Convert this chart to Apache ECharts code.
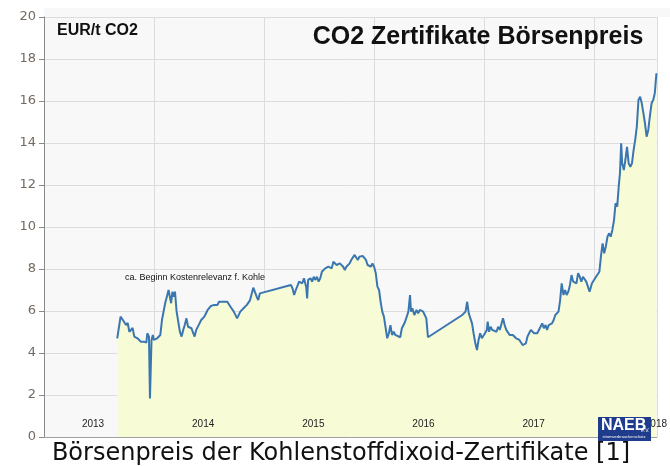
<!DOCTYPE html>
<html><head><meta charset="utf-8">
<script src="https://cdn.jsdelivr.net/npm/echarts@6/dist/echarts.min.js"></script>
<style>html,body{margin:0;padding:0;background:#fff}#c{width:670px;height:466px}</style>
</head><body><div id="c"></div>
<script>
// ---- data (EUR per t CO2, dates as decimal years) ----
const yearTicks = [2013, 2014, 2015, 2016, 2017, 2018];

const dates2013  = [2013.665, 2013.695, 2013.716, 2013.731, 2013.745, 2013.760, 2013.775, 2013.789, 2013.804, 2013.820,
                    2013.834, 2013.849, 2013.864, 2013.878, 2013.893, 2013.908, 2013.929, 2013.938, 2013.953, 2013.962,
                    2013.976, 2013.988, 2013.997];
const prices2013 = [4.70, 5.73, 5.57, 5.49, 5.33, 5.43, 5.01, 4.94, 5.19, 4.78,
                    4.86, 4.70, 4.62, 4.54, 4.62, 4.54, 4.49, 4.94, 4.78, 1.84,
                    4.62, 4.86, 4.62];

const dates2014  = [2014.012, 2014.027, 2014.042, 2014.056, 2014.071, 2014.086, 2014.100, 2014.116, 2014.131, 2014.145,
                    2014.154, 2014.166, 2014.175, 2014.189, 2014.204, 2014.220, 2014.234, 2014.249, 2014.264, 2014.278,
                    2014.293, 2014.308, 2014.323, 2014.338, 2014.353, 2014.367, 2014.382, 2014.397, 2014.412, 2014.427,
                    2014.442, 2014.456, 2014.471, 2014.486, 2014.500, 2014.516, 2014.531, 2014.545, 2014.560, 2014.575,
                    2014.589, 2014.604, 2014.620, 2014.634, 2014.664, 2014.678, 2014.693, 2014.723, 2014.753, 2014.767,
                    2014.782, 2014.812, 2014.842, 2014.871, 2014.900, 2014.931, 2014.945, 2014.960];
const prices2014 = [4.54, 4.70, 4.62, 4.86, 5.57, 5.49, 6.37, 6.44, 7.00, 7.03,
                    6.37, 6.92, 6.68, 6.92, 5.97, 5.89, 5.01, 4.78, 5.10, 5.33,
                    5.65, 5.25, 5.33, 5.18, 5.10, 4.78, 5.10, 5.18, 5.41, 5.57,
                    5.57, 5.73, 5.89, 6.05, 6.13, 6.24, 6.29, 6.29, 6.37, 6.29,
                    6.44, 6.37, 6.44, 6.52, 6.44, 6.44, 6.20, 5.97, 5.65, 5.73,
                    5.97, 6.13, 6.29, 6.52, 7.11, 6.68, 6.52, 6.84];

const dates2015  = [2015.242, 2015.256, 2015.271, 2015.286, 2015.316, 2015.331, 2015.345, 2015.360, 2015.380, 2015.389,
                    2015.398, 2015.420, 2015.434, 2015.449, 2015.464, 2015.478, 2015.493, 2015.508, 2015.523, 2015.538,
                    2015.553, 2015.567, 2015.582, 2015.597, 2015.612, 2015.627, 2015.642, 2015.656, 2015.686, 2015.716,
                    2015.731, 2015.745, 2015.775, 2015.789, 2015.804, 2015.820, 2015.834, 2015.849, 2015.864, 2015.893,
                    2015.908, 2015.923, 2015.938, 2015.953, 2015.967, 2015.982, 2015.997];
const prices2015 = [7.24, 7.08, 6.76, 7.00, 7.40, 7.48, 7.32, 7.56, 7.16, 6.60,
                    7.48, 7.56, 7.40, 7.63, 7.48, 7.63, 7.40, 7.56, 7.87, 7.80,
                    8.03, 7.95, 8.11, 8.19, 8.03, 8.35, 8.27, 8.19, 8.27, 8.11,
                    7.95, 8.11, 8.27, 8.43, 8.51, 8.67, 8.59, 8.43, 8.59, 8.62,
                    8.59, 8.43, 8.19, 8.27, 8.11, 8.27, 8.11];

const dates2016  = [2016.012, 2016.027, 2016.042, 2016.056, 2016.071, 2016.086, 2016.100, 2016.116, 2016.131, 2016.145,
                    2016.160, 2016.175, 2016.189, 2016.204, 2016.234, 2016.249, 2016.264, 2016.278, 2016.293, 2016.308,
                    2016.323, 2016.332, 2016.344, 2016.362, 2016.382, 2016.397, 2016.412, 2016.427, 2016.442, 2016.456,
                    2016.471, 2016.486, 2016.797, 2016.812, 2016.827, 2016.842, 2016.856, 2016.871, 2016.886, 2016.900,
                    2016.916, 2016.931, 2016.945, 2016.960, 2016.975, 2016.989];
const prices2016 = [7.80, 7.16, 7.00, 6.44, 5.97, 5.73, 5.25, 4.70, 4.94, 5.33,
                    4.86, 5.01, 4.86, 4.94, 4.75, 5.18, 5.33, 5.49, 5.57, 5.97,
                    6.76, 5.97, 6.13, 5.81, 6.05, 5.89, 6.05, 6.13, 5.97, 5.89,
                    5.65, 4.75, 5.81, 5.73, 5.97, 6.44, 5.89, 5.65, 5.41, 4.94,
                    4.46, 4.14, 4.62, 4.94, 4.70, 4.78];

const dates2017  = [2017.004, 2017.020, 2017.028, 2017.040, 2017.055, 2017.069, 2017.087, 2017.108, 2017.123, 2017.138,
                    2017.153, 2017.167, 2017.182, 2017.197, 2017.212, 2017.227, 2017.242, 2017.256, 2017.271, 2017.286,
                    2017.300, 2017.316, 2017.331, 2017.345, 2017.360, 2017.375, 2017.389, 2017.404, 2017.420, 2017.434,
                    2017.449, 2017.464, 2017.478, 2017.493, 2017.508, 2017.523, 2017.538, 2017.553, 2017.567, 2017.582,
                    2017.597, 2017.612, 2017.627, 2017.642, 2017.656, 2017.671, 2017.686, 2017.700, 2017.716, 2017.731,
                    2017.745, 2017.760, 2017.775, 2017.789, 2017.804, 2017.820, 2017.834, 2017.849, 2017.864, 2017.878,
                    2017.893, 2017.908, 2017.923, 2017.938, 2017.953, 2017.975];
const prices2017 = [4.94, 5.10, 5.49, 5.01, 5.25, 5.10, 5.18, 5.01, 5.25, 5.10,
                    5.18, 5.65, 5.33, 5.10, 5.01, 4.86, 4.78, 4.86, 4.94, 4.70,
                    4.62, 4.62, 4.54, 4.38, 4.30, 4.46, 4.78, 4.94, 5.10, 5.01,
                    4.94, 4.86, 4.94, 5.01, 5.25, 5.41, 5.18, 5.33, 5.10, 5.33,
                    5.25, 5.41, 5.57, 5.81, 5.89, 5.97, 6.52, 7.32, 6.76, 7.00,
                    6.76, 6.92, 7.24, 7.71, 7.40, 7.48, 7.32, 7.80, 7.63, 7.40,
                    7.63, 7.56, 7.40, 7.32, 6.92, 7.32];

const dates2018  = [2018.012, 2018.042, 2018.056, 2018.071, 2018.086, 2018.100, 2018.116, 2018.131, 2018.145, 2018.160,
                    2018.175, 2018.189, 2018.204, 2018.220, 2018.229, 2018.240, 2018.249, 2018.264, 2018.278, 2018.293,
                    2018.308, 2018.323, 2018.338, 2018.353, 2018.367, 2018.382, 2018.397, 2018.412, 2018.427, 2018.442,
                    2018.456, 2018.471, 2018.486, 2018.500, 2018.516, 2018.531, 2018.545, 2018.560];
const prices2018 = [7.63, 7.87, 8.59, 9.22, 8.75, 9.06, 9.54, 9.70, 9.54, 9.86,
                    10.33, 11.13, 10.97, 12.08, 12.56, 13.99, 13.03, 12.71, 13.19, 13.82,
                    13.03, 12.87, 13.03, 13.67, 14.14, 14.78, 16.05, 16.20, 15.89, 15.41,
                    14.94, 14.30, 14.62, 15.25, 15.89, 16.05, 16.37, 17.32];

const chartTitle = 'CO2 Zertifikate Börsenpreis';
const unitLabel = 'EUR/t CO2';
const noteText = 'ca. Beginn Kostenrelevanz f. Kohle';
const captionText = 'Börsenpreis der Kohlenstoffdixoid-Zertifikate [1]';

// ---- build ----
const allDates = [].concat(dates2013, dates2014, dates2015, dates2016, dates2017, dates2018);
const allPrices = [].concat(prices2013, prices2014, prices2015, prices2016, prices2017, prices2018);
const seriesData = allDates.map((d, i) => [d, allPrices[i]]);
const labelPos = yearTicks.map(y => y + (y === 2018 ? 0.555 : 0.445));

const chart = echarts.init(document.getElementById('c'), null, {renderer: 'canvas'});
chart.setOption({
  animation: false,
  backgroundColor: '#ffffff',
  grid: {left: 44, right: 0, top: 17, bottom: 29, show: true, backgroundColor: '#f8f8f8', borderWidth: 0},
  xAxis: [{
    type: 'value', min: 2013, max: 2018.564, interval: 1,
    axisLine: {show: true, lineStyle: {color: '#a0a0a0', width: 1}},
    axisTick: {show: false},
    splitLine: {show: true, lineStyle: {color: '#dcdcdc', width: 1}},
    axisLabel: {show: false}
  }, {
    type: 'value', min: 2013, max: 2018.564, interval: 1, position: 'bottom', z: 20,
    axisLine: {show: false}, axisTick: {show: false}, splitLine: {show: false},
    axisLabel: {
      customValues: labelPos, inside: true, margin: 8,
      formatter: v => String(Math.floor(v)),
      color: '#222', fontSize: 10, fontFamily: 'Liberation Sans'
    }
  }],
  yAxis: {
    type: 'value', min: 0, max: 20, interval: 2,
    axisLine: {show: true, lineStyle: {color: '#8a8a8a', width: 1}},
    axisTick: {show: true, length: 5, lineStyle: {color: '#8a8a8a'}},
    splitLine: {show: true, lineStyle: {color: '#dcdcdc', width: 1}},
    axisLabel: {margin: 8, color: '#746a60', fontSize: 13, fontFamily: 'DejaVu Sans'}
  },
  series: [{
    type: 'line', data: seriesData, showSymbol: false, symbol: 'none', xAxisIndex: 0,
    lineStyle: {color: '#3a76af', width: 2},
    areaStyle: {color: '#f8fcd6', opacity: 1},
    z: 3
  }],
  graphic: [
    {type: 'rect', shape: {x: 44, y: 8, width: 626, height: 9}, style: {fill: '#f8f8f8'}, z: -1},
    {type: 'text', x: 57, y: 31, style: {text: unitLabel, font: 'bold 16px "Liberation Sans"', fill: '#111', verticalAlign: 'middle'}, z: 50},
    {type: 'text', x: 478, y: 37, style: {text: chartTitle, font: 'bold 25px "Liberation Sans"', fill: '#111', align: 'center', verticalAlign: 'middle'}, z: 50},
    {type: 'text', x: 125, y: 278, style: {text: noteText, font: '9px "Liberation Sans"', fill: '#111', verticalAlign: 'middle'}, z: 50},
    {type: 'rect', shape: {x: 0, y: 440, width: 670, height: 26}, style: {fill: '#ffffff'}, z: 60},
    {type: 'text', x: 341, y: 454, style: {text: captionText, font: '24px "DejaVu Sans"', fill: '#111', align: 'center', verticalAlign: 'middle'}, z: 61},
    {type: 'rect', shape: {x: 598, y: 417, width: 53, height: 24}, style: {fill: '#1f3c8c'}, z: 70},
    {type: 'text', x: 601, y: 426, style: {text: 'NAEB', font: 'bold 16px "Liberation Sans"', fill: '#ffffff', verticalAlign: 'middle'}, z: 71},
    {type: 'text', x: 641, y: 431, style: {text: 'e.V.', font: '5px "Liberation Sans"', fill: '#ffffff', verticalAlign: 'middle'}, z: 71},
    {type: 'text', x: 624, y: 437, style: {text: 'stromverbraucherschutz', font: '4px "Liberation Sans"', fill: '#ffffff', align: 'center', verticalAlign: 'middle'}, z: 71}
  ]
});
</script></body></html>
